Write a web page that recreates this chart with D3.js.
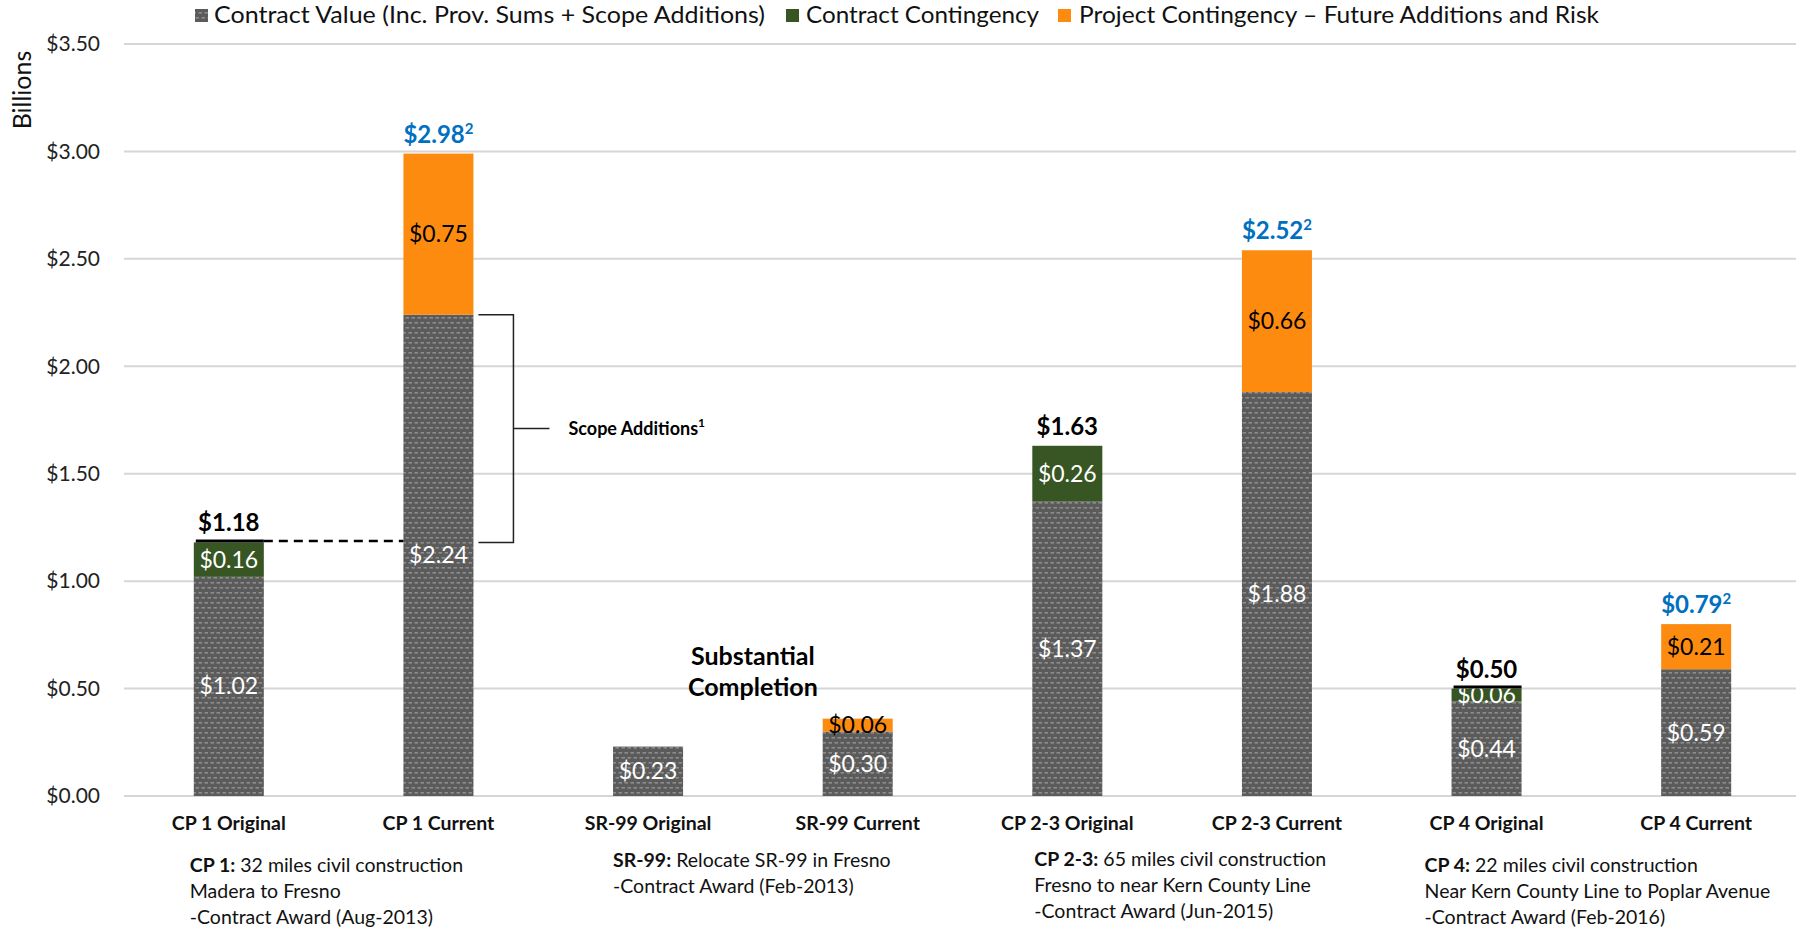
<!DOCTYPE html>
<html>
<head>
<meta charset="utf-8">
<script src="https://cdn.jsdelivr.net/npm/d3@7"></script>
<style>
body { margin: 0; background: #fff; }
svg { font-family: Lato, "Open Sans", sans-serif; }
</style>
</head>
<body>
<svg id="chart" width="1796" height="931"></svg>
<script>
// chart values
const categories = ["CP 1 Original", "CP 1 Current", "SR-99 Original", "SR-99 Current",
  "CP 2-3 Original", "CP 2-3 Current", "CP 4 Original", "CP 4 Current"];
const contractValue = [1.02, 2.24, 0.23, 0.30, 1.37, 1.88, 0.44, 0.59];
const contractContingency = [0.16, 0, 0, 0, 0.26, 0, 0.06, 0];
const projectContingency = [0, 0.75, 0, 0.06, 0, 0.66, 0, 0.21];
const totalLabels = ["$1.18", "$2.98", "", "", "$1.63", "$2.52", "$0.50", "$0.79"];
const totalNotes = ["", "2", "", "", "", "2", "", "2"];
const topLine = [true, false, false, false, false, false, true, false];
const seriesNames = ["Contract Value (Inc. Prov. Sums +  Scope Additions)", "Contract Contingency",
  "Project Contingency \u2013 Future Additions and Risk"];
const yTicks = [0, 0.5, 1, 1.5, 2, 2.5, 3, 3.5];
const descriptions = [
  {at: "CP 1 Original", bold: "CP 1:", lines: [" 32 miles civil construction", "Madera to Fresno", "-Contract Award (Aug-2013)"]},
  {at: "SR-99 Original", bold: "SR-99:", lines: [" Relocate SR-99 in Fresno", "-Contract Award (Feb-2013)"]},
  {at: "CP 2-3 Original", bold: "CP 2-3:", lines: [" 65 miles civil  construction", "Fresno to near Kern County Line", "-Contract Award (Jun-2015)"]},
  {at: "CP 4 Original", bold: "CP 4:", lines: [" 22 miles civil construction", "Near Kern County Line to Poplar Avenue", "-Contract Award (Feb-2016)"]}
];
// layout nudges for the description blocks (x offset from bar left, first baseline)
const descNudge = [[-4, 872], [0, 867], [2, 866], [-27, 872]];

const svg = d3.select("#chart");
const green = "#375623", orange = "#fd8b10", blue = "#0070c0";

const defs = svg.append("defs");
const pat = defs.append("pattern").attr("id", "grey")
  .attr("patternUnits", "userSpaceOnUse").attr("width", 6).attr("height", 10);
pat.append("rect").attr("width", 6).attr("height", 10).attr("fill", "#5b5b5b");
pat.append("rect").attr("x", 0.5).attr("y", 2).attr("width", 3.5).attr("height", 1.6).attr("fill", "#8d8d8d");
pat.append("rect").attr("x", 3.5).attr("y", 7).attr("width", 3.5).attr("height", 1.6).attr("fill", "#8d8d8d");
pat.append("rect").attr("x", -2.5).attr("y", 7).attr("width", 3.5).attr("height", 1.6).attr("fill", "#8d8d8d");
const colors = ["url(#grey)", green, orange];

const x = d3.scaleBand().domain(categories).range([124, 1801])
  .paddingInner(0.666).paddingOuter(0.333);
const y = d3.scaleLinear().domain([0, 3.5]).range([796, 44]);
const bw = x.bandwidth();

// gridlines
svg.append("g").selectAll("line").data(yTicks).join("line")
  .attr("x1", 124).attr("x2", 1796)
  .attr("y1", d => y(d)).attr("y2", d => y(d))
  .attr("stroke", "#d6d6d6").attr("stroke-width", 2);

// y axis labels
const yAxis = svg.append("g").attr("transform", "translate(106,0)")
  .call(d3.axisLeft(y).tickValues(yTicks).tickSize(0).tickPadding(6).tickFormat(d3.format("$.2f")));
yAxis.select(".domain").remove();
yAxis.selectAll("text").attr("font-size", 21).attr("fill", "#222").attr("font-family", "Lato");

svg.append("text").attr("transform", "translate(31,90) rotate(-90)")
  .attr("text-anchor", "middle").attr("font-size", 25).attr("fill", "#111")
  .text("Billions");

// stacked bars
const rows = categories.map((c, i) => ({cat: c, v0: contractValue[i], v1: contractContingency[i], v2: projectContingency[i]}));
const stack = d3.stack().keys(["v0", "v1", "v2"])(rows);
const labelColor = ["#fff", "#fff", "#000"];
stack.forEach((layer, k) => {
  const g = svg.append("g");
  g.selectAll("rect").data(layer.filter(d => d[1] - d[0] > 0)).join("rect")
    .attr("x", d => x(d.data.cat)).attr("width", bw)
    .attr("y", d => y(d[1])).attr("height", d => y(d[0]) - y(d[1]))
    .attr("fill", colors[k]);
  g.selectAll("text").data(layer.filter(d => d[1] - d[0] > 0)).join("text")
    .attr("x", d => x(d.data.cat) + bw / 2)
    .attr("y", d => (y(d[0]) + y(d[1])) / 2)
    .attr("dy", "0.35em").attr("text-anchor", "middle")
    .attr("font-size", 23).attr("fill", labelColor[k])
    .text(d => d3.format("$.2f")(d[1] - d[0]));
});

const totals = rows.map(r => r.v0 + r.v1 + r.v2);

// black top line on original bars
svg.append("g").selectAll("line").data(categories.filter((c, i) => topLine[i])).join("line")
  .attr("x1", c => x(c) + 2).attr("x2", c => x(c) + bw)
  .attr("y1", c => y(totals[categories.indexOf(c)]) - 1.5)
  .attr("y2", c => y(totals[categories.indexOf(c)]) - 1.5)
  .attr("stroke", "#000").attr("stroke-width", 3);

// dashed comparison line
svg.append("line")
  .attr("x1", x(categories[0]) + bw).attr("x2", x(categories[1]))
  .attr("y1", y(totals[0]) - 1.5).attr("y2", y(totals[0]) - 1.5)
  .attr("stroke", "#000").attr("stroke-width", 2.5).attr("stroke-dasharray", "9,6");

// total labels
const tl = svg.append("g").selectAll("text").data(categories.filter((c, i) => totalLabels[i])).join("text")
  .attr("x", c => x(c) + bw / 2)
  .attr("y", c => y(totals[categories.indexOf(c)]) - 11)
  .attr("text-anchor", "middle").attr("font-weight", "bold").attr("font-size", 24)
  .attr("fill", c => totalNotes[categories.indexOf(c)] ? blue : "#000");
tl.append("tspan").text(c => totalLabels[categories.indexOf(c)]);
tl.append("tspan").attr("font-size", 15).attr("dy", -9)
  .text(c => totalNotes[categories.indexOf(c)]);

// scope additions bracket
const bx0 = x(categories[1]) + bw + 5, bx1 = bx0 + 35;
svg.append("path")
  .attr("d", `M${bx0},${y(contractValue[1])}H${bx1}V${y(totals[0])}H${bx0}M${bx1},${y((totals[0] + contractValue[1]) / 2)}h36`)
  .attr("fill", "none").attr("stroke", "#222").attr("stroke-width", 1.5);
const sa = svg.append("text").attr("x", bx1 + 55).attr("y", y((totals[0] + contractValue[1]) / 2) + 6)
  .attr("font-weight", "bold").attr("font-size", 18).attr("fill", "#000");
sa.append("tspan").text("Scope Additions");
sa.append("tspan").attr("font-size", 12).attr("dy", -8).text("1");

// substantial completion note
const scx = (x(categories[2]) + x(categories[3]) + bw) / 2;
svg.append("text").attr("x", scx).attr("y", 665)
  .attr("text-anchor", "middle").attr("font-weight", "bold").attr("font-size", 25)
  .selectAll("tspan").data(["Substantial", "Completion"]).join("tspan")
  .attr("x", scx).attr("dy", (d, i) => i ? 31 : 0).text(d => d);

// category labels
svg.append("g").selectAll("text").data(categories).join("text")
  .attr("x", c => x(c) + bw / 2).attr("y", 830)
  .attr("text-anchor", "middle").attr("font-weight", "bold").attr("font-size", 19.5)
  .attr("fill", "#111").text(c => c);

// descriptions
descriptions.forEach((d, k) => {
  const left = x(d.at) + descNudge[k][0];
  const t = svg.append("text").attr("font-size", 19.5).attr("fill", "#111");
  d.lines.forEach((line, i) => {
    const ts = t.append("tspan").attr("x", left).attr("y", descNudge[k][1] + i * 26);
    if (i === 0) {
      ts.append("tspan").attr("font-weight", "bold").text(d.bold);
      ts.append("tspan").text(line);
    } else ts.text(line);
  });
});

// legend
const legendX = [[195, 214, 551], [786, 806, 233], [1058, 1079, 520]];
const lg = svg.append("g").selectAll("g").data(seriesNames).join("g");
lg.append("rect").attr("x", (d, i) => legendX[i][0]).attr("y", 9)
  .attr("width", 13).attr("height", 13).attr("fill", (d, i) => colors[i]);
lg.append("text").attr("x", (d, i) => legendX[i][1]).attr("y", 23)
  .attr("font-size", 23).attr("fill", "#111")
  .attr("textLength", (d, i) => legendX[i][2]).attr("lengthAdjust", "spacingAndGlyphs")
  .text(d => d);
</script>
</body>
</html>
